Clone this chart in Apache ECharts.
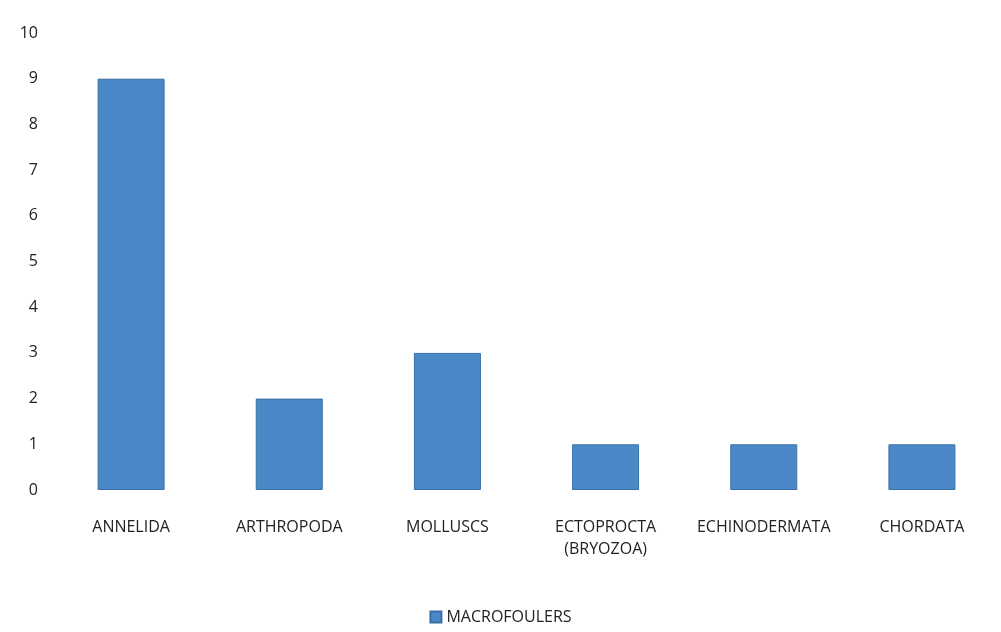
<!DOCTYPE html>
<html><head><meta charset="utf-8">
<script src="https://cdn.jsdelivr.net/npm/echarts@6/dist/echarts.min.js"></script>
<style>html,body{margin:0;padding:0;background:#fff}#c{width:1001px;height:632px}</style>
</head><body><div id="c"></div>
<script>
const categories = ['ANNELIDA','ARTHROPODA','MOLLUSCS','ECTOPROCTA\n(BRYOZOA)','ECHINODERMATA','CHORDATA'];
const seriesName = 'MACROFOULERS';
const values = [9, 2, 3, 1, 1, 1];
const yTicks = {min: 0, max: 10, interval: 1};

const chart = echarts.init(document.getElementById('c'));
const font = '"Open Sans", "Liberation Sans", sans-serif';
chart.setOption({
  animation: false,
  backgroundColor: '#fff',
  textStyle: {fontFamily: font},
  grid: {left: 52, right: 0, top: 33, bottom: 142, containLabel: false},
  legend: {
    bottom: 2, left: 'center', itemWidth: 11, itemHeight: 11, itemGap: 6, icon: 'rect',
    textStyle: {fontSize: 16, color: '#222', fontFamily: font},
    data: [seriesName]
  },
  xAxis: {
    type: 'category', data: categories,
    axisLine: {show: false}, axisTick: {show: false},
    axisLabel: {fontSize: 16, color: '#222', margin: 26, lineHeight: 22, interval: 0, fontFamily: font}
  },
  yAxis: {
    type: 'value', min: yTicks.min, max: yTicks.max, interval: yTicks.interval,
    axisLine: {show: false}, axisTick: {show: false}, splitLine: {show: false},
    axisLabel: {fontSize: 16, color: '#222', margin: 14, fontFamily: font}
  },
  series: [{
    name: seriesName, type: 'bar', data: values, barWidth: 67,
    itemStyle: {color: '#4a88c7', borderColor: '#3a6fa5', borderWidth: 1}
  }]
});
</script></body></html>
